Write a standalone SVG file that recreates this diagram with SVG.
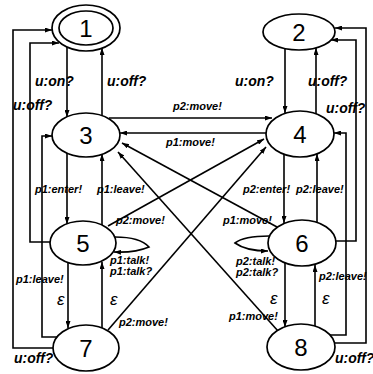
<svg xmlns="http://www.w3.org/2000/svg" width="373" height="374" viewBox="0 0 373 374">
<style>
.n{fill:#fff;stroke:#000;stroke-width:1.7}
.d{font-family:"Liberation Sans",Arial,sans-serif;font-size:24px;fill:#000;text-anchor:middle}
.e{fill:none;stroke:#000;stroke-width:1.6;marker-end:url(#ah)}
.l{font-family:"Liberation Sans",Arial,sans-serif;font-size:11px;font-style:italic;font-weight:bold;fill:#000}
.u{font-family:"Liberation Sans",Arial,sans-serif;font-size:14px;font-style:italic;font-weight:bold;fill:#000}
.g{font-family:"Liberation Sans",Arial,sans-serif;font-size:17px;font-style:italic;fill:#000}
</style>
<defs>
<marker id="ah" viewBox="0 0 7 5" refX="7" refY="2.5" markerWidth="7" markerHeight="5" markerUnits="userSpaceOnUse" orient="auto"><path d="M0,0 L7,2.5 L0,5 z" fill="#000"/></marker>
</defs>
<rect width="373" height="374" fill="#fff"/>
<g id="connectors">
<g><path class="e" d="M67 47 L67 117"/><text class="u" x="35" y="86">u:on?</text></g>
<g><path class="e" d="M102 116 L102 48"/><text class="u" x="107" y="86">u:off?</text></g>
<g><path class="e" d="M285 49 L285 113"/><text class="u" x="235" y="86">u:on?</text></g>
<g><path class="e" d="M316 114 L316 48"/><text class="u" x="308" y="86">u:off?</text></g>
<g><path class="e" d="M67 153 L67 224"/><text class="l" x="35" y="193">p1:enter!</text></g>
<g><path class="e" d="M102 225 L102 154"/><text class="l" x="97" y="193">p1:leave!</text></g>
<g><path class="e" d="M284 154 L284 223"/><text class="l" x="243" y="193">p2:enter!</text></g>
<g><path class="e" d="M317 222 L317 154"/><text class="l" x="296" y="193">p2:leave!</text></g>
<g><path class="e" d="M68 263 L68 328"/><text class="g" x="57" y="305">ε</text></g>
<g><path class="e" d="M102 328 L102 262"/><text class="g" x="110" y="305">ε</text></g>
<g><path class="e" d="M285 263 L285 327"/><text class="g" x="270" y="304">ε</text></g>
<g><path class="e" d="M315 326 L315 265"/><text class="g" x="322" y="304">ε</text></g>
<g><path class="e" d="M109 118 L272 118"/><text class="l" x="173" y="110">p2:move!</text></g>
<g><path class="e" d="M266 133 L120 133"/><text class="l" x="166" y="146">p1:move!</text></g>
<g><path class="e" d="M108 226 L264 139"/><text class="l" x="116" y="224">p2:move!</text></g>
<g><path class="e" d="M108 330 L266 147"/><text class="l" x="119" y="326">p2:move!</text></g>
<g><path class="e" d="M277 227 L122 143"/><text class="l" x="223" y="224">p1:move!</text></g>
<g><path class="e" d="M278 331 L118 152"/><text class="l" x="229" y="320">p1:move!</text></g>
<g><path class="e" d="M50 242 H30 V43 H59"/><text class="u" x="13" y="110">u:off?</text></g>
<g><path class="e" d="M53 348 H13 V30 H52"/><text class="u" x="14" y="363">u:off?</text></g>
<g><path class="e" d="M57 337 H42 V136 H52"/><text class="l" x="16" y="283">p1:leave!</text></g>
<g><path class="e" d="M336 241 H356 V40 H331"/><text class="u" x="326" y="113">u:off?</text></g>
<g><path class="e" d="M334 343 H366 V28 H335"/><text class="u" x="335" y="363">u:off?</text></g>
<g><path class="e" d="M330 335 H346 V133 H334"/><text class="l" x="319" y="280">p2:leave!</text></g>
<g><path class="e" d="M115 237 Q140 237 149 247 Q135 253 114 252"/><text class="l" x="110" y="264">p1:talk!</text><text class="l" x="110" y="275">p1:talk?</text></g>
<g><path class="e" d="M269 236 Q244 236 235 243 Q246 251 268 251"/><text class="l" x="236" y="265">p2:talk!</text><text class="l" x="236" y="276">p2:talk?</text></g>
</g>
<g id="node1"><ellipse class="n" cx="86" cy="28" rx="34" ry="23"/><ellipse class="n" cx="86" cy="28" rx="27" ry="17"/><text class="d" x="86" y="37">1</text></g>
<g id="node2"><ellipse class="n" cx="299" cy="32" rx="36" ry="18"/><text class="d" x="299" y="41">2</text></g>
<g id="node3"><ellipse class="n" cx="86" cy="135" rx="34" ry="22"/><text class="d" x="86" y="144">3</text></g>
<g id="node4"><ellipse class="n" cx="300" cy="134" rx="34" ry="23"/><text class="d" x="300" y="143">4</text></g>
<g id="node5"><ellipse class="n" cx="83" cy="243" rx="33" ry="22"/><text class="d" x="83" y="252">5</text></g>
<g id="node6"><ellipse class="n" cx="302" cy="243" rx="34" ry="23"/><text class="d" x="302" y="252">6</text></g>
<g id="node7"><ellipse class="n" cx="86" cy="348" rx="33" ry="23"/><text class="d" x="86" y="357">7</text></g>
<g id="node8"><ellipse class="n" cx="301" cy="347" rx="34" ry="23"/><text class="d" x="301" y="356">8</text></g>
</svg>
